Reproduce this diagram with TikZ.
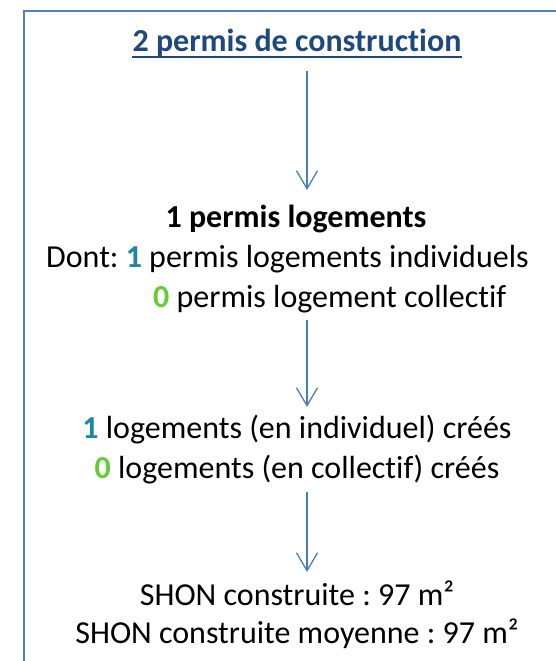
\documentclass[tikz,border=0pt]{standalone}
\usepackage{fontspec}
\setmainfont{Carlito}[Ligatures={NoCommon}]
\usetikzlibrary{arrows.meta}
\definecolor{frameblue}{HTML}{4F81BD}
\definecolor{arrowblue}{HTML}{4A7EBB}
\definecolor{titleblue}{HTML}{1F497D}
\definecolor{numteal}{RGB}{30,135,165}
\definecolor{numgreen}{RGB}{102,204,51}
\frenchspacing
\begin{document}
\begin{tikzpicture}[x=1pt,y=-1pt,
  txt/.style={inner sep=0pt, anchor=base, font=\fontsize{32}{39}\selectfont},
  txtw/.style={txt, anchor=base west},
  arr/.style={draw=arrowblue, line width=1.3pt,
    -{Straight Barb[length=18pt, width=21pt, line width=1.3pt]}}]
\useasboundingbox (0,0) rectangle (556,661);
\draw[frameblue, line width=2pt] (24,661) -- (24,11) -- (556,11);

\node[txt, font=\fontsize{32}{39}\selectfont\bfseries, text=titleblue] (title) at (297,52) {2 permis de construction};
\draw[titleblue, line width=2.2pt] ([yshift=-5pt]title.base west) -- ([yshift=-5pt]title.base east);

\node[txt, font=\fontsize{32}{39}\selectfont\bfseries] (perm) at (296,227) {1 permis logements};
\node[txtw] (dont) at (46,267) {Dont: \textbf{\color{numteal}1} permis logements individuels};
\node[txtw] (coll) at (153,307) {\textbf{\color{numgreen}0} permis logement collectif};

\node[txt] (indiv) at (297,438) {\textbf{\color{numteal}1} logements (en individuel) créés};
\node[txt] (colle) at (297,478) {\textbf{\color{numgreen}0} logements (en collectif) créés};

\node[txt] (shon) at (297,605) {SHON construite : 97 m²};
\node[txt] (shonm) at (297,643) {SHON construite moyenne : 97 m²};

\coordinate (a1s) at (307,71);
\coordinate (a1e) at (307,190);
\coordinate (a2s) at (307,320);
\coordinate (a2e) at (307,407);
\coordinate (a3s) at (307,492);
\coordinate (a3e) at (307,572);
\draw[arr] (a1s) -- (a1e);
\draw[arr] (a2s) -- (a2e);
\draw[arr] (a3s) -- (a3e);
\end{tikzpicture}
\end{document}
